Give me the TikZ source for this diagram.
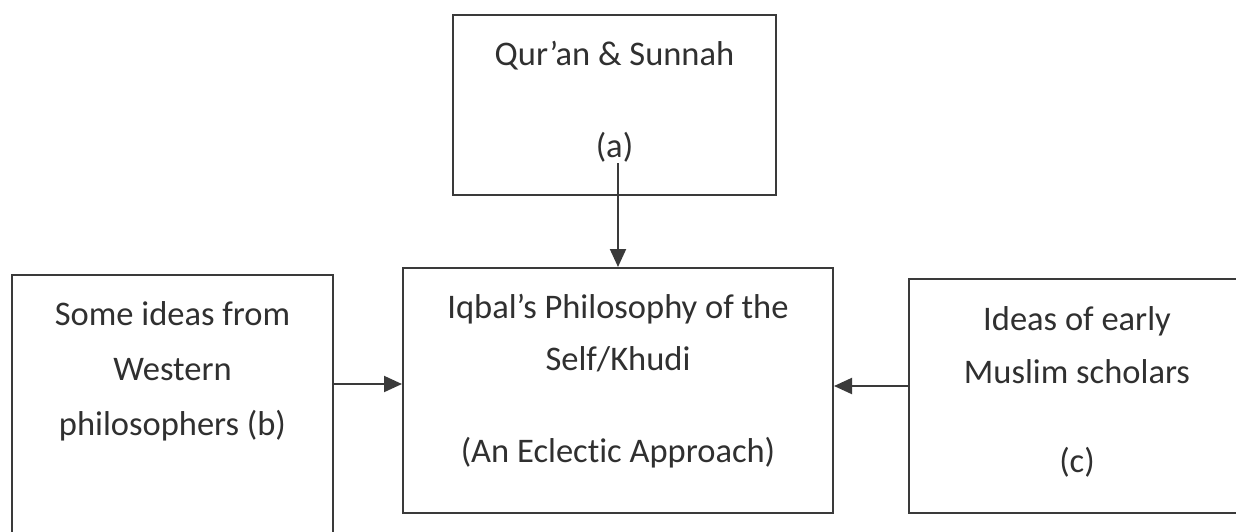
\documentclass[tikz,border=0pt]{standalone}
\usepackage{fontspec}
\setmainfont[Ligatures=NoCommon]{Carlito}
\usetikzlibrary{arrows.meta}
\definecolor{linegray}{HTML}{3A3A3A}
\definecolor{textgray}{HTML}{303030}
\tikzset{
  box/.style={draw=linegray, line width=2pt, rectangle, inner sep=0pt},
  lbl/.style={anchor=base, text=textgray, font=\fontsize{34.5}{40}\selectfont, inner sep=0pt},
  conn/.style={draw=linegray, line width=2pt, -{Triangle[length=18pt,width=16pt]}}
}
\begin{document}
\begin{tikzpicture}[x=1pt,y=-1pt]
\useasboundingbox[clip] (0,0) rectangle (1236,531);
\fill[white] (0,0) rectangle (1236,531);
% boxes
\node[box, minimum width=323pt, minimum height=180pt] (top) at (614.5,105) {};
\node[box, minimum width=430pt, minimum height=245pt] (mid) at (618,390.5) {};
\node[box, minimum width=321pt, minimum height=270pt] (left) at (172.5,410) {};
\node[box, minimum width=336pt, minimum height=234pt] (right) at (1077,396) {};
% texts
\node[lbl] (ta1) at (614.5,65) {Qur’an \& Sunnah};
\node[lbl] (ta2) at (614.5,157) {(a)};
\node[lbl] (tm1) at (618,318) {Iqbal’s Philosophy of the};
\node[lbl] (tm2) at (618,370) {Self/Khudi};
\node[lbl] (tm3) at (618,462) {(An Eclectic Approach)};
\node[lbl] (tl1) at (172.5,325) {Some ideas from};
\node[lbl] (tl2) at (172.5,380) {Western};
\node[lbl] (tl3) at (172.5,435) {philosophers (b)};
\node[lbl] (tr1) at (1077,330) {Ideas of early};
\node[lbl] (tr2) at (1077,383) {Muslim scholars};
\node[lbl] (tr3) at (1077,472) {(c)};
% connectors
\coordinate (astart) at (618,163);
\coordinate (ly) at (0,384);
\coordinate (ry) at (0,386);
\draw[conn] (astart) -- (astart |- mid.north);
\draw[conn] (left.east |- ly) -- (mid.west |- ly);
\draw[conn] (right.west |- ry) -- (mid.east |- ry);
\end{tikzpicture}
\end{document}
